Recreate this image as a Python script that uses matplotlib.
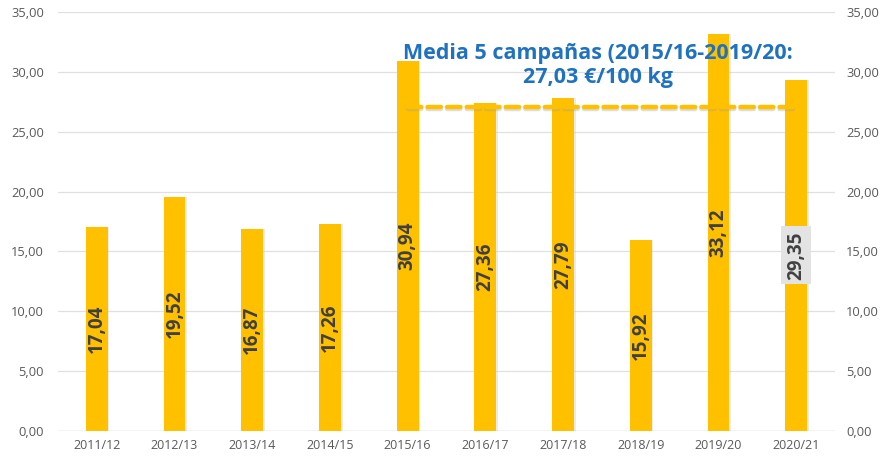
import matplotlib
matplotlib.use("Agg")
import matplotlib.pyplot as plt
import numpy as np

categories = ["2011/12", "2012/13", "2013/14", "2014/15", "2015/16",
              "2016/17", "2017/18", "2018/19", "2019/20", "2020/21"]
values = [17.04, 19.52, 16.87, 17.26, 30.94, 27.36, 27.79, 15.92, 33.12, 29.35]
value_labels = ["17,04", "19,52", "16,87", "17,26", "30,94",
                "27,36", "27,79", "15,92", "33,12", "29,35"]
avg_value = 27.03
avg_start, avg_end = 4, 9
yticks = [0, 5, 10, 15, 20, 25, 30, 35]
ytick_labels = ["0,00", "5,00", "10,00", "15,00", "20,00", "25,00", "30,00", "35,00"]
title_lines = "Media 5 campañas (2015/16-2019/20:\n27,03 €/100 kg"

plt.rcParams['font.family'] = ['Open Sans', 'DejaVu Sans']

fig = plt.figure(figsize=(8.85, 4.58), dpi=100)
ax = fig.add_axes([0.0655, 0.059, 0.878, 0.915])
x = np.arange(len(categories))

# shadow
ax.bar(x + 0.02, values, width=0.285, color="#c8c8c8", alpha=0.35, zorder=2)
ax.bar(x, values, width=0.28, color="#FFC000", zorder=3)

ax.set_xlim(-0.5, len(categories) - 0.5)
ax.set_ylim(0, 35)
ax.set_yticks(yticks)
ax.set_yticklabels(ytick_labels, color="#595959", fontsize=9.3)
ax.set_xticks(x)
ax.set_xticklabels(categories, color="#595959", fontsize=9)
ax.tick_params(axis="y", length=0, pad=10)
ax.tick_params(axis="x", length=0, pad=6)
ax.grid(axis="y", color="#e0e0e0", lw=0.9, zorder=0)
for s in ax.spines.values():
    s.set_visible(False)
ax.axhline(0, color="#d9d9d9", lw=1, zorder=1)

ax2 = ax.twinx()
ax2.set_ylim(0, 35)
ax2.set_yticks(yticks)
ax2.set_yticklabels(ytick_labels, color="#595959", fontsize=9.3)
ax2.tick_params(axis="y", length=0, pad=8)
for s in ax2.spines.values():
    s.set_visible(False)

# average line
ax.plot([avg_start, avg_end], [avg_value - 0.15, avg_value - 0.15], color="#a0a0a0",
        lw=3.2, ls=(0, (3.0, 1.4)), alpha=0.35, zorder=4, dash_capstyle="round")
ax.plot([avg_start, avg_end], [avg_value, avg_value], color="#FFC000",
        lw=3.2, ls=(0, (3.0, 1.4)), zorder=5, dash_capstyle="round")

for i, (v, lab) in enumerate(zip(values, value_labels)):
    kw = {}
    if i == len(values) - 1:
        kw = dict(bbox=dict(boxstyle="square,pad=0.25", fc="#e3e3e3", ec="none"))
    ax.text(i, v / 2, lab, rotation=90, ha="center", va="center",
            fontsize=13.5, fontweight="bold", color="#404040", zorder=6, **kw)

ax.text(6.45, 30.55, title_lines, ha="center", va="center", fontsize=15.5,
        fontweight="bold", color="#1F72C0", linespacing=1.2, zorder=7)

fig.savefig("out.png", dpi=100)
